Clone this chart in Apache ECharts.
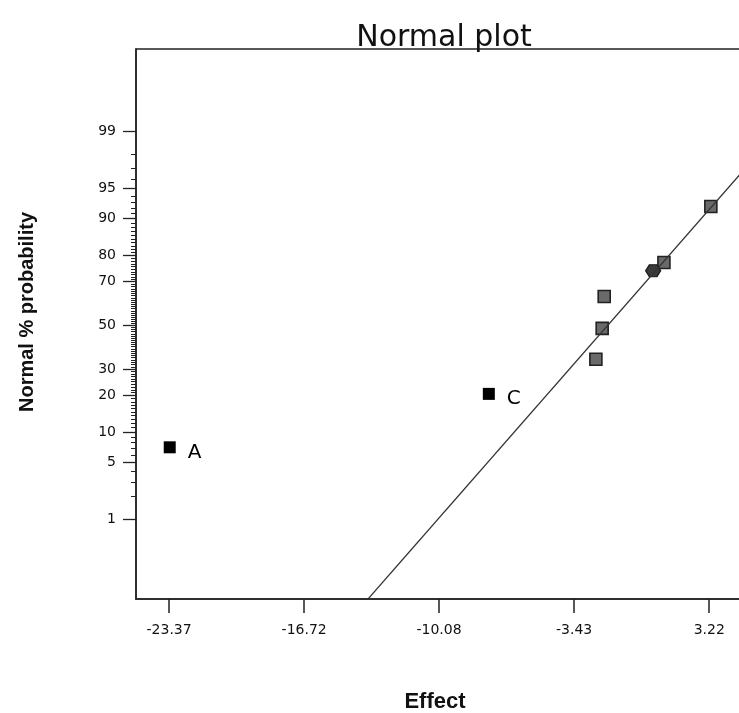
<!DOCTYPE html>
<html>
<head>
<meta charset="utf-8">
<script src="https://cdn.jsdelivr.net/npm/echarts@6/dist/echarts.min.js"></script>
<style>
html,body{margin:0;padding:0;background:#fff;}
#chart{width:739px;height:713px;}
</style>
</head>
<body>
<div id="chart"></div>
<script>
// ---- data ----
const xTickValues = [-23.37, -16.72, -10.08, -3.43, 3.22];
const yTickPercents = [1, 5, 10, 20, 30, 50, 70, 80, 90, 95, 99];
const namedEffectLabels = ['A', 'C'];
const namedEffects = [-23.34, -7.63];
const namedProbs = [7.2, 20.6];
const otherEffects = [-2.36, -2.05, -1.95, 0.99, 3.30];
const otherProbs = [34.3, 48.6, 63.6, 77.5, 92.3];
const hexEffects = [0.46];
const hexProbs = [74.4];
const fitEffects = [-14, 7];
const fitProbs = [0.034, 99.27];

// inverse standard normal CDF (probit scale transform)
function probit(p) {
  const a = [-3.969683028665376e+01, 2.209460984245205e+02, -2.759285104469687e+02, 1.383577518672690e+02, -3.066479806614716e+01, 2.506628277459239e+00];
  const b = [-5.447609879822406e+01, 1.615858368580409e+02, -1.556989798598866e+02, 6.680131188771972e+01, -1.328068155288572e+01];
  const c = [-7.784894002430293e-03, -3.223964580411365e-01, -2.400758277161838e+00, -2.549732539343734e+00, 4.374664141464968e+00, 2.938163982698783e+00];
  const d = [7.784695709041462e-03, 3.224671290700398e-01, 2.445134137142996e+00, 3.754408661907416e+00];
  const pl = 0.02425;
  let q, r;
  if (p < pl) {
    q = Math.sqrt(-2 * Math.log(p));
    return (((((c[0]*q+c[1])*q+c[2])*q+c[3])*q+c[4])*q+c[5]) / ((((d[0]*q+d[1])*q+d[2])*q+d[3])*q+1);
  } else if (p <= 1 - pl) {
    q = p - 0.5; r = q*q;
    return (((((a[0]*r+a[1])*r+a[2])*r+a[3])*r+a[4])*r+a[5])*q / (((((b[0]*r+b[1])*r+b[2])*r+b[3])*r+b[4])*r+1);
  } else {
    q = Math.sqrt(-2 * Math.log(1 - p));
    return -(((((c[0]*q+c[1])*q+c[2])*q+c[3])*q+c[4])*q+c[5]) / ((((d[0]*q+d[1])*q+d[2])*q+d[3])*q+1);
  }
}
const z = pct => probit(pct / 100);

const majorZ = yTickPercents.map(z);
const minorZ = [];
for (let i = 1; i <= 99; i++) minorZ.push(z(i));

const X_MIN = -25.0, X_MAX = 7, Y_MIN = -3.28, Y_MAX = 3.315;
const tickFont = 'DejaVu Sans';

const chart = echarts.init(document.getElementById('chart'), null, {renderer: 'canvas'});
chart.setOption({
  backgroundColor: '#ffffff',
  animation: false,
  title: {
    text: 'Normal plot',
    left: 439,
    textAlign: 'center',
    top: 18,
    textStyle: {fontFamily: tickFont, fontSize: 30, fontWeight: 'normal', color: '#111'}
  },
  graphic: [{
    type: 'text',
    x: 27, y: 312, rotation: Math.PI / 2,
    style: {
      text: 'Normal % probability',
      fontFamily: 'Liberation Sans', fontWeight: 'bold', fontSize: 20, fill: '#111',
      align: 'center', verticalAlign: 'middle'
    }
  }, {
    type: 'text',
    x: 435, y: 702,
    style: {
      text: 'Effect',
      fontFamily: 'Liberation Sans', fontWeight: 'bold', fontSize: 22, fill: '#111',
      align: 'center', verticalAlign: 'middle'
    }
  }],
  grid: {
    left: 136, top: 49, height: 550, width: 650,
    outerBoundsMode: 'none', containLabel: false,
    show: true, borderColor: '#222', borderWidth: 1.5, backgroundColor: 'transparent'
  },
  xAxis: {
    type: 'value', min: X_MIN, max: X_MAX,
    axisLine: {show: true, onZero: false, lineStyle: {color: '#222', width: 1.5}},
    axisTick: {show: true, inside: false, length: 14, customValues: xTickValues, lineStyle: {color: '#222', width: 1.5}},
    axisLabel: {
      show: true, margin: 24, customValues: xTickValues,
      fontFamily: tickFont, fontSize: 14, color: '#111',
      formatter: v => Number(v).toFixed(2)
    },
    splitLine: {show: false}
  },
  yAxis: [
    {
      type: 'value', min: Y_MIN, max: Y_MAX, position: 'left',
      axisLine: {show: true, onZero: false, lineStyle: {color: '#222', width: 1.5}},
      axisTick: {show: true, inside: false, length: 13, customValues: majorZ, lineStyle: {color: '#222', width: 1.3}},
      axisLabel: {
        show: true, margin: 20, customValues: majorZ,
        fontFamily: tickFont, fontSize: 14, color: '#111',
        formatter: v => {
          let best = 0, bd = Infinity;
          majorZ.forEach((m, i) => { const dd = Math.abs(m - v); if (dd < bd) { bd = dd; best = i; } });
          return String(yTickPercents[best]);
        }
      },
      splitLine: {show: false}
    },
    {
      type: 'value', min: Y_MIN, max: Y_MAX, position: 'left', offset: 0,
      axisLine: {show: false, onZero: false},
      axisTick: {show: true, inside: false, length: 5, customValues: minorZ, lineStyle: {color: '#222', width: 1}},
      axisLabel: {show: false},
      splitLine: {show: false}
    }
  ],
  series: [
    {
      type: 'line', name: 'fit', yAxisIndex: 0,
      data: fitEffects.map((e, i) => [e, z(fitProbs[i])]),
      symbol: 'none', clip: true,
      lineStyle: {color: '#333', width: 1.3}
    },
    {
      type: 'scatter', name: 'other', yAxisIndex: 0,
      data: otherEffects.map((e, i) => [e, z(otherProbs[i])]),
      symbol: 'rect', symbolSize: 12,
      itemStyle: {color: '#6a6a6a', borderColor: '#222', borderWidth: 1.6, opacity: 1}
    },
    {
      type: 'scatter', name: 'hex', yAxisIndex: 0,
      data: hexEffects.map((e, i) => [e, z(hexProbs[i])]),
      symbol: 'path://M3,0 L9,0 L12,5 L9,10 L3,10 L0,5 Z', symbolSize: [15, 12],
      itemStyle: {color: '#3a3a3a', borderColor: '#1a1a1a', borderWidth: 1.2, opacity: 1}
    },
    {
      type: 'scatter', name: 'named', yAxisIndex: 0,
      data: namedEffects.map((e, i) => ({value: [e, z(namedProbs[i])], name: namedEffectLabels[i]})),
      symbol: 'rect', symbolSize: 12,
      itemStyle: {color: '#000', opacity: 1},
      label: {
        show: true, position: 'right', distance: 12, offset: [0, 5],
        formatter: p => p.name,
        fontFamily: tickFont, fontSize: 20, color: '#000'
      }
    }
  ]
});
</script>
</body>
</html>
